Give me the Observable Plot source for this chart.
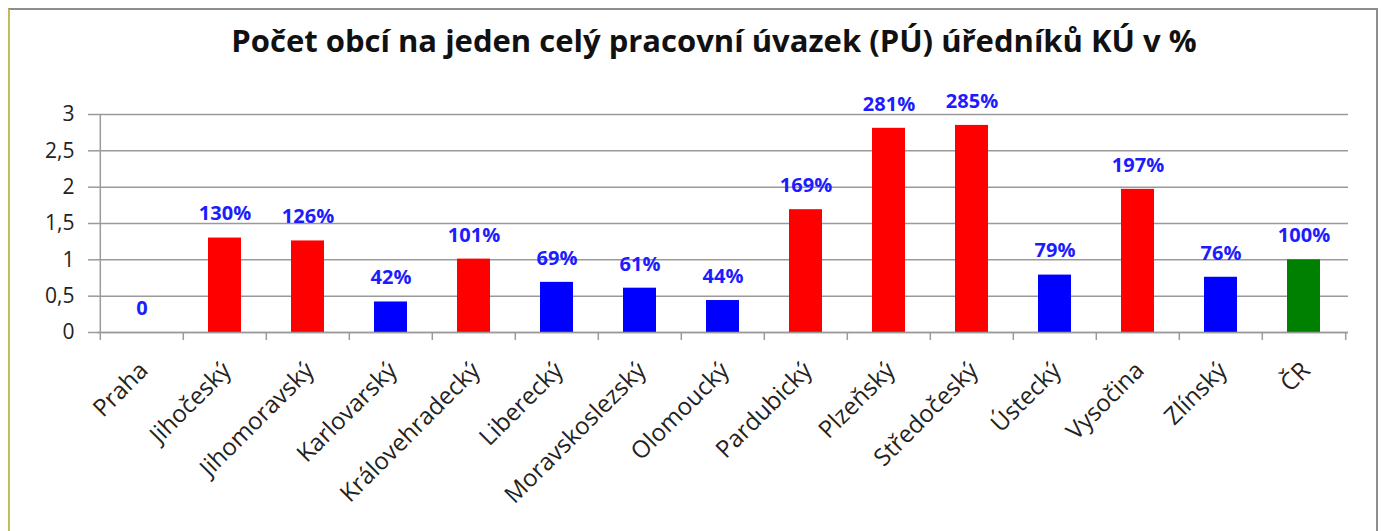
<!DOCTYPE html>
<html><head><meta charset="utf-8">
<script src="https://cdn.jsdelivr.net/npm/d3@7"></script>
<script src="https://cdn.jsdelivr.net/npm/@observablehq/plot@0.6"></script>
<style>
body{margin:0;background:#fff;overflow:hidden;}
#frame{position:absolute;left:8px;top:8px;width:1366px;height:600px;border:2px solid #8e8e8e;border-left-color:#c2bb5a;border-bottom:none;}
#title{position:absolute;top:22px;left:714px;transform:translateX(-50%);white-space:nowrap;font:bold 31px/36px "Open Sans";color:#111;}
#chart{position:absolute;left:0;top:70px;}
</style></head><body>
<div id="frame"></div>
<div id="title">Počet obcí na jeden celý pracovní úvazek (PÚ) úředníků KÚ v %</div>
<div id="chart"></div>
<script>
const regions = ["Praha","Jihočeský","Jihomoravský","Karlovarský","Královehradecký","Liberecký","Moravskoslezský","Olomoucký","Pardubický","Plzeňský","Středočeský","Ústecký","Vysočina","Zlínský","ČR"];
const values = [0, 1.30, 1.26, 0.42, 1.01, 0.69, 0.61, 0.44, 1.69, 2.81, 2.85, 0.79, 1.97, 0.76, 1.00];
const labels = ["0","130%","126%","42%","101%","69%","61%","44%","169%","281%","285%","79%","197%","76%","100%"];
const groups = ["pod","nad","nad","pod","nad","pod","pod","pod","nad","nad","nad","pod","nad","pod","ČR"];
const yTicks = [0, 0.5, 1, 1.5, 2, 2.5, 3];
const groupDomain = ["nad","pod","ČR"];
const groupColors = ["#ff0000","#0000ff","#008000"];

const data = regions.map((r, i) => ({region: r, value: values[i], label: labels[i], group: groups[i]}));
const W = 1383, H = 461, ML = 97, MR = 35, MT = 44, MB = 199;
const bw = (W - ML - MR) / regions.length;
const axisColor = "#9a9a9a";

const chart = Plot.plot({
  width: W, height: H,
  marginLeft: ML, marginRight: MR, marginTop: MT, marginBottom: MB,
  style: {fontFamily: "Open Sans", color: "#222", background: "transparent"},
  x: {type: "band", domain: regions, padding: 0, label: null},
  y: {domain: [0, 3], label: null},
  color: {domain: groupDomain, range: groupColors},
  marks: [
    Plot.gridY(yTicks, {stroke: axisColor, strokeOpacity: 1, strokeWidth: 1.5}),
    Plot.barY(data, {x: "region", y: "value", fill: "group", insetLeft: 25, insetRight: 25}),
    Plot.ruleY([0], {stroke: axisColor, strokeWidth: 1.5}),
    Plot.ruleX([regions[0]], {dx: -bw / 2, y1: 0, y2: 3, stroke: axisColor, strokeWidth: 1.5}),
    Plot.axisY({ticks: yTicks, tickFormat: d => String(d).replace(".", ","), tickSize: 9, tickPadding: 14, fontSize: 21, stroke: axisColor, strokeWidth: 1.5, strokeOpacity: 1, label: null}),
    Plot.axisX({tickSize: 8, tickFormat: () => "", dx: -bw / 2, stroke: axisColor, strokeWidth: 1.5, strokeOpacity: 1, label: null}),
    Plot.axisX({ticks: [regions[regions.length - 1]], tickSize: 8, tickFormat: () => "", dx: bw / 2, stroke: axisColor, strokeWidth: 1.5, strokeOpacity: 1, label: null}),
    Plot.axisX({tickSize: 0, tickRotate: -45, tickPadding: 34, dx: 2, fontSize: 24, label: null}),
    Plot.text(data, {x: "region", y: "value", text: "label", dy: -24, fill: "#1c1cff", fontWeight: "bold", fontSize: 20})
  ]
});
document.getElementById("chart").append(chart);
</script>
</body></html>
